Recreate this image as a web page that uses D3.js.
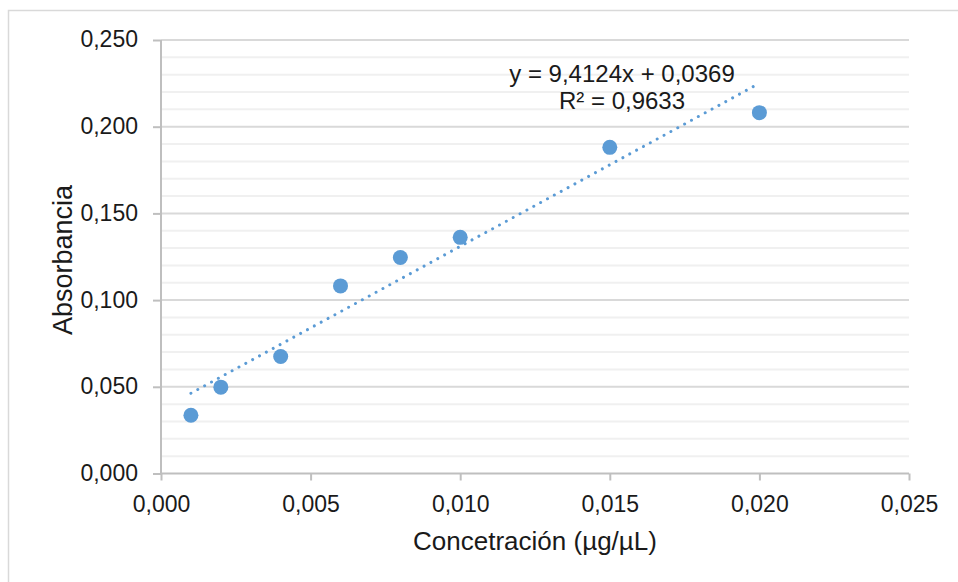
<!DOCTYPE html>
<html>
<head>
<meta charset="utf-8">
<script src="https://cdn.jsdelivr.net/npm/d3@7"></script>
<style>
  body { margin: 0; background: #fff; }
  svg { display: block; font-family: "Liberation Sans", Arial, sans-serif; }
</style>
</head>
<body>
<script>
// data
var concentracion = [0.001, 0.002, 0.004, 0.006, 0.008, 0.010, 0.015, 0.020];
var absorbancia = [0.0336, 0.0498, 0.0675, 0.1082, 0.1246, 0.1362, 0.1881, 0.2081];
var xTicks = [0, 0.005, 0.010, 0.015, 0.020, 0.025];
var yTicks = [0, 0.050, 0.100, 0.150, 0.200, 0.250];
var equationLines = ["y = 9,4124x + 0,0369", "R² = 0,9633"];

var width = 958, height = 582;
var color = "#5b9bd5";

var svg = d3.select("body")
	.append("svg")
	.attr("width", width)
	.attr("height", height);

// chart area border (runs off the right and bottom edge)
svg.append("rect")
	.attr("x", 8.5)
	.attr("y", 10.5)
	.attr("width", 1000)
	.attr("height", 1000)
	.style("fill", "none")
	.style("stroke", "#d9d9d9")
	.style("stroke-width", 1.5);

var x = d3.scaleLinear().domain([0, 0.025]).range([161, 909]);
var y = d3.scaleLinear().domain([0, 0.25]).range([473.5, 40]);

var fmt = function(d) { return d3.format(".3f")(d).replace(".", ","); };

// minor gridlines every 0,010
var minor = d3.range(0.01, 0.25, 0.01).filter(function(d) {
	return Math.abs(d / 0.05 - Math.round(d / 0.05)) > 1e-6;
});
svg.append("g")
	.selectAll("line")
	.data(minor)
	.enter().append("line")
	.attr("x1", x(0))
	.attr("x2", x(0.025))
	.attr("y1", function(d) { return y(d); })
	.attr("y2", function(d) { return y(d); })
	.style("stroke", "#f0f0f0")
	.style("stroke-width", 2);

// major gridlines
svg.append("g")
	.selectAll("line")
	.data(yTicks.slice(1))
	.enter().append("line")
	.attr("x1", x(0))
	.attr("x2", x(0.025))
	.attr("y1", function(d) { return y(d); })
	.attr("y2", function(d) { return y(d); })
	.style("stroke", "#d9d9d9")
	.style("stroke-width", 2);

// axes
var yAxis = svg.append("g")
	.attr("transform", "translate(" + x(0) + ",0)")
	.call(d3.axisLeft(y).tickValues(yTicks).tickFormat(fmt).tickSize(8).tickPadding(15));

var xAxis = svg.append("g")
	.attr("transform", "translate(0," + y(0) + ")")
	.call(d3.axisBottom(x).tickValues(xTicks).tickFormat(fmt).tickSize(7).tickPadding(15));

[xAxis, yAxis].forEach(function(a) {
	a.select(".domain").style("stroke", "#bfbfbf").style("stroke-width", 2);
	a.selectAll(".tick line").style("stroke", "#bfbfbf").style("stroke-width", 2);
	a.selectAll(".tick text")
		.style("font-family", "'Liberation Sans', Arial, sans-serif")
		.style("font-size", "23px")
		.style("fill", "#1a1a1a");
});
yAxis.selectAll(".tick text").attr("dy", "0.3em");
xAxis.select(".domain").attr("d", "M" + x(0) + ",0H" + x(0.025));
yAxis.select(".domain").attr("d", "M0," + y(0.25) + "V" + y(0));

// linear trendline (least squares)
var n = concentracion.length;
var mx = d3.mean(concentracion), my = d3.mean(absorbancia);
var sxy = 0, sxx = 0;
for (var i = 0; i < n; i++) {
	sxy += (concentracion[i] - mx) * (absorbancia[i] - my);
	sxx += (concentracion[i] - mx) * (concentracion[i] - mx);
}
var slope = sxy / sxx;
var intercept = my - slope * mx;
var xExt = d3.extent(concentracion);

svg.append("line")
	.attr("x1", x(xExt[0]))
	.attr("y1", y(slope * xExt[0] + intercept))
	.attr("x2", x(xExt[1]))
	.attr("y2", y(slope * xExt[1] + intercept))
	.style("stroke", color)
	.style("stroke-width", 3)
	.style("stroke-linecap", "round")
	.style("stroke-dasharray", "0.01,7.8");

// points
svg.append("g")
	.selectAll("circle")
	.data(concentracion)
	.enter().append("circle")
	.attr("cx", function(d) { return x(d); })
	.attr("cy", function(d, i) { return y(absorbancia[i]); })
	.attr("r", 7.5)
	.style("fill", color);

// trendline equation
svg.append("g")
	.selectAll("text")
	.data(equationLines)
	.enter().append("text")
	.attr("x", 622)
	.attr("y", function(d, i) { return 82 + i * 27; })
	.attr("text-anchor", "middle")
	.style("font-size", "24px")
	.style("fill", "#1a1a1a")
	.text(function(d) { return d; });

// axis titles
svg.append("text")
	.attr("x", 535)
	.attr("y", 550)
	.attr("text-anchor", "middle")
	.style("font-size", "26px")
	.style("fill", "#1a1a1a")
	.text("Concetración (µg/µL)");

svg.append("text")
	.attr("transform", "translate(72,260) rotate(-90)")
	.attr("text-anchor", "middle")
	.style("font-size", "27px")
	.style("fill", "#1a1a1a")
	.text("Absorbancia");
</script>
</body>
</html>
